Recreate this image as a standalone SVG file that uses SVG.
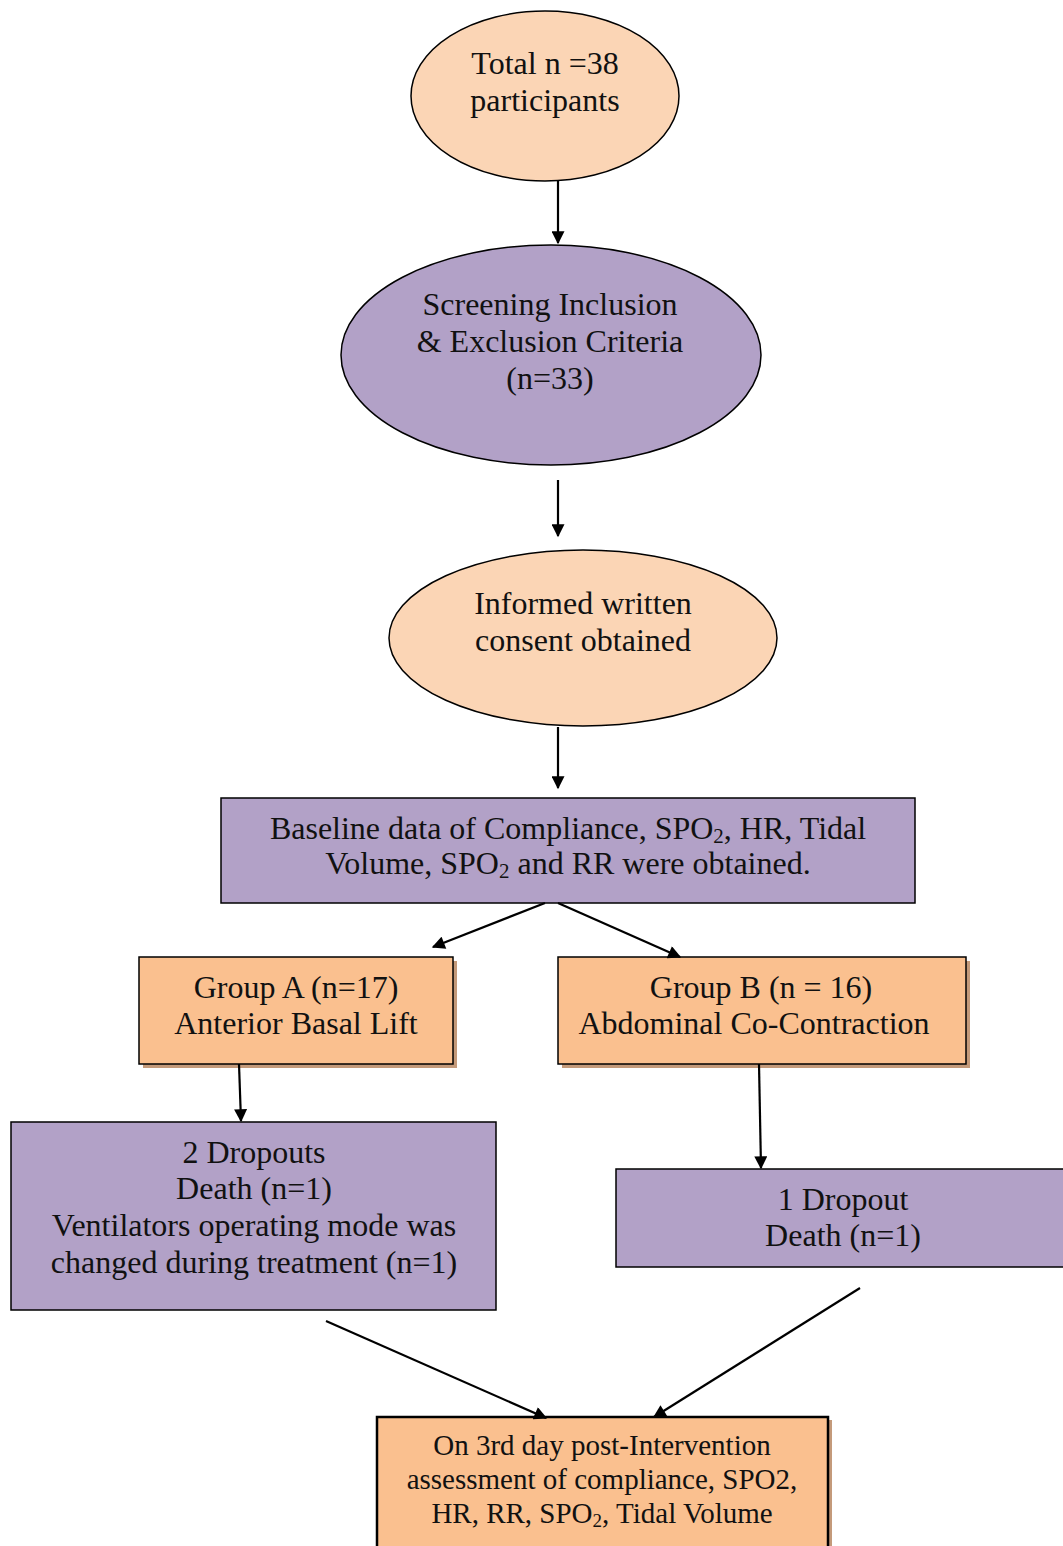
<svg xmlns="http://www.w3.org/2000/svg" width="1063" height="1546" viewBox="0 0 1063 1546">
<style>
text{font-family:"Liberation Serif","Times New Roman",serif;font-size:32px;fill:#111;text-anchor:middle}
.sm{font-size:29px}
.peach{fill:#FBD5B5;stroke:#000;stroke-width:1.5}
.purple{fill:#B2A1C7;stroke:#000;stroke-width:1.5}
.orange{fill:#FAC08F;stroke:#000;stroke-width:1.5}
.shadow{fill:#C49A7A}
.conn line{stroke:#000;stroke-width:2.2;marker-end:url(#ah)}
</style>
<defs>
<marker id="ah" viewBox="0 0 10 10" refX="9" refY="5" markerWidth="14" markerHeight="13" markerUnits="userSpaceOnUse" orient="auto"><path d="M0,0L10,5L0,10z" fill="#000"/></marker>
</defs>
<rect width="1063" height="1546" fill="#fff"/>
<g id="n1"><ellipse class="peach" cx="545" cy="96" rx="134" ry="85"/>
<text x="545" y="74">Total n =38</text><text x="545" y="111">participants</text></g>
<g id="n2"><ellipse class="purple" cx="551" cy="355" rx="210" ry="110"/>
<text x="550" y="315">Screening Inclusion</text><text x="550" y="352">&amp; Exclusion Criteria</text><text x="550" y="389">(n=33)</text></g>
<g id="n3"><ellipse class="peach" cx="583" cy="638" rx="194" ry="88"/>
<text x="583" y="614">Informed written</text><text x="583" y="651">consent obtained</text></g>
<g id="n4"><rect class="purple" x="221" y="798" width="694" height="105"/>
<text x="568" y="839">Baseline data of Compliance, SPO<tspan font-size="21" dy="4">2</tspan><tspan dy="-4">, HR, Tidal</tspan></text>
<text x="568" y="874">Volume, SPO<tspan font-size="21" dy="4">2</tspan><tspan dy="-4"> and RR were obtained.</tspan></text></g>
<g id="n5"><rect class="shadow" x="143" y="961" width="314" height="107"/><rect class="orange" x="139" y="957" width="314" height="107"/>
<text x="296" y="998">Group A (n=17)</text><text x="296" y="1034">Anterior Basal Lift</text></g>
<g id="n6"><rect class="shadow" x="562" y="961" width="408" height="107"/><rect class="orange" x="558" y="957" width="408" height="107"/>
<text x="761" y="998">Group B (n = 16)</text><text x="754" y="1034">Abdominal Co-Contraction</text></g>
<g id="n7"><rect class="purple" x="11" y="1122" width="485" height="188"/>
<text x="254" y="1163">2 Dropouts</text><text x="254" y="1199">Death (n=1)</text><text x="254" y="1236">Ventilators operating mode was</text><text x="254" y="1273">changed during treatment (n=1)</text></g>
<g id="n8"><rect class="purple" x="616" y="1169" width="460" height="98"/>
<text x="843" y="1210">1 Dropout</text><text x="843" y="1246">Death (n=1)</text></g>
<g id="n9"><rect class="shadow" x="381" y="1420" width="451" height="140"/><rect fill="#FAC08F" stroke="#000" stroke-width="2.5" x="377" y="1417" width="451" height="140"/>
<text class="sm" x="602" y="1455">On 3rd day post-Intervention</text><text class="sm" x="602" y="1489">assessment of compliance, SPO2,</text>
<text class="sm" x="602" y="1523">HR, RR, SPO<tspan font-size="19" dy="4">2</tspan><tspan dy="-4">, Tidal Volume</tspan></text></g>
<g class="conn">
<line x1="558" y1="181" x2="558" y2="243"/>
<line x1="558" y1="480" x2="558" y2="536"/>
<line x1="558" y1="727" x2="558" y2="788"/>
<line x1="545" y1="903" x2="433" y2="947"/>
<line x1="558" y1="903" x2="680" y2="957"/>
<line x1="239" y1="1064" x2="241" y2="1121"/>
<line x1="759" y1="1064" x2="761" y2="1168"/>
<line x1="326" y1="1321" x2="546" y2="1418"/>
<line x1="860" y1="1288" x2="654" y2="1417"/>
</g>
</svg>
